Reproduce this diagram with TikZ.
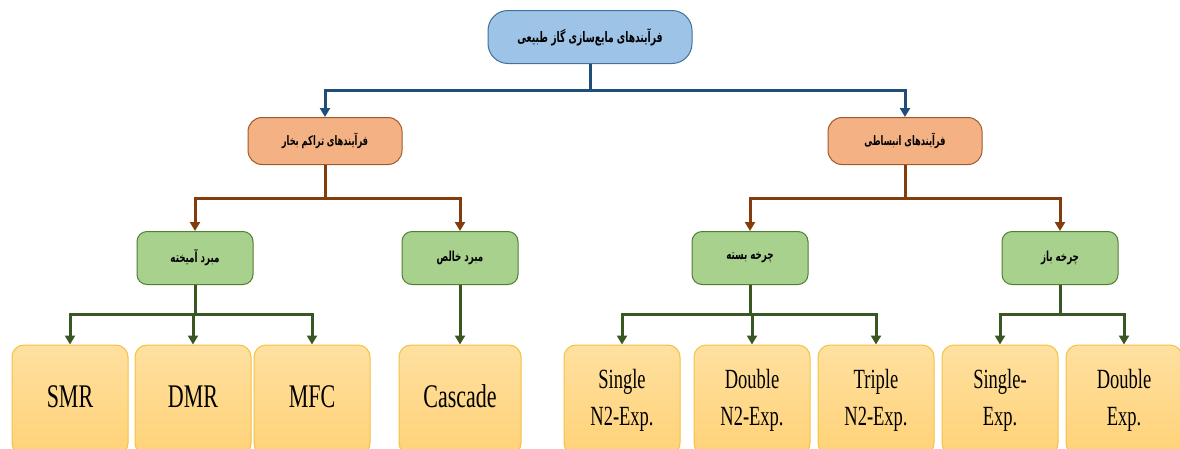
\documentclass[tikz,border=0pt]{standalone}
\usepackage{fontspec}
\setmainfont{Liberation Serif}
\newfontfamily\farsi[Script=Arabic]{DejaVu Sans}
\TeXXeTstate=1
\usepackage{tikz}
\usetikzlibrary{shapes,arrows.meta,calc}
\definecolor{rootfill}{HTML}{9DC3E6}
\definecolor{rootdraw}{HTML}{41719C}
\definecolor{catfill}{HTML}{F4B183}
\definecolor{catdraw}{HTML}{9C5A2E}
\definecolor{subfill}{HTML}{A9D18E}
\definecolor{subdraw}{HTML}{507E32}
\definecolor{leaftop}{HTML}{FFE0A0}
\definecolor{leafbot}{HTML}{FFD277}
\definecolor{leafdraw}{HTML}{F5C142}
\definecolor{blueline}{HTML}{1F4E79}
\definecolor{brownline}{HTML}{843C0C}
\definecolor{greenline}{HTML}{385723}
\tikzset{box/.style={draw, line width=1pt, inner sep=0pt, align=center},
rootbox/.style={box, fill=rootfill, draw=rootdraw, rounded corners=20pt,
  minimum width=204pt, minimum height=53pt, font=\farsi\bfseries\fontsize{10}{12}\selectfont},
catbox/.style={box, fill=catfill, draw=catdraw, rounded corners=14pt,
  minimum width=154pt, minimum height=47pt, font=\farsi\bfseries\fontsize{9}{11}\selectfont},
subbox/.style={box, fill=subfill, draw=subdraw, rounded corners=10pt,
  minimum width=116pt, minimum height=53pt, font=\farsi\bfseries\fontsize{9.5}{11}\selectfont},
leafbox/.style={box, top color=leaftop, bottom color=leafbot, draw=leafdraw, rounded corners=12pt,
  minimum width=116pt, minimum height=110pt},
tree/.style={to path={(\tikztostart) |- ($(\tikztostart)!.5!(\tikztotarget)$) -| (\tikztotarget)}},
bus/.style={tree, line width=3pt, -{Triangle[width=10pt,length=9pt]}}
}
\newcommand{\fa}[1]{\scalebox{0.92}[1.45]{\beginR #1\endR}}
\newcommand{\tall}[2]{\scalebox{1}[1.5]{\fontsize{#1}{24.5}\selectfont\begin{tabular}{@{}c@{}}#2\end{tabular}}}

\begin{document}
\begin{tikzpicture}[x=1pt, y=-1pt]
      \useasboundingbox[fill=white] (0,0) rectangle (1180,448);

      \node[rootbox] (n_root) at (590,37)  {\fa{فرآیندهای مایع‌سازی گاز طبیعی}};
      \node[catbox]  (n_vc)   at (325,141) {\fa{فرآیندهای تراکم بخار}};
      \node[catbox]  (n_ex)   at (905,141) {\fa{فرآیندهای انبساطی}};

      \node[subbox]  (n_mr)   at (195,258)  {\fa{مبرد آمیخته}};
      \node[subbox]  (n_pr)   at (460,258)  {\fa{مبرد خالص}};
      \node[subbox]  (n_cc)   at (750,258)  {\fa{چرخه بسته}};
      \node[subbox]  (n_oc)   at (1060,258) {\fa{چرخه باز}};

      \node[leafbox] (n_smr)  at (70,400)   {\tall{22}{SMR}};
      \node[leafbox] (n_dmr)  at (193,400)  {\tall{22}{DMR}};
      \node[leafbox] (n_mfc)  at (312,400)  {\tall{22}{MFC}};
      \node[leafbox, minimum width=122pt] (n_cas) at (460,400) {\tall{22}{Cascade}};
      \node[leafbox] (n_sn2)  at (622,400)  {\tall{18.5}{Single\\N2-Exp.}};
      \node[leafbox] (n_dn2)  at (752,400)  {\tall{18.5}{Double\\N2-Exp.}};
      \node[leafbox] (n_tn2)  at (876,400)  {\tall{18.5}{Triple\\N2-Exp.}};
      \node[leafbox] (n_sex)  at (1000,400) {\tall{18.5}{Single-\\Exp.}};
      \node[leafbox] (n_dex)  at (1124,400) {\tall{18.5}{Double\\Exp.}};

      % connectors
      \path[every edge/.style={bus, draw=blueline}]
                (n_root.south) edge (n_vc.north)
                               edge (n_ex.north);
      \path[every edge/.style={bus, draw=brownline}]
                (n_vc.south)   edge (n_mr.north)
                               edge (n_pr.north)
                (n_ex.south)   edge (n_cc.north)
                               edge (n_oc.north);
      \path[every edge/.style={bus, draw=greenline}]
                (n_mr.south)   edge (n_smr.north)
                               edge (n_dmr.north)
                               edge (n_mfc.north)
                (n_pr.south)   edge (n_cas.north)
                (n_cc.south)   edge (n_sn2.north)
                               edge (n_dn2.north)
                               edge (n_tn2.north)
                (n_oc.south)   edge (n_sex.north)
                               edge (n_dex.north);
\end{tikzpicture}
\end{document}
